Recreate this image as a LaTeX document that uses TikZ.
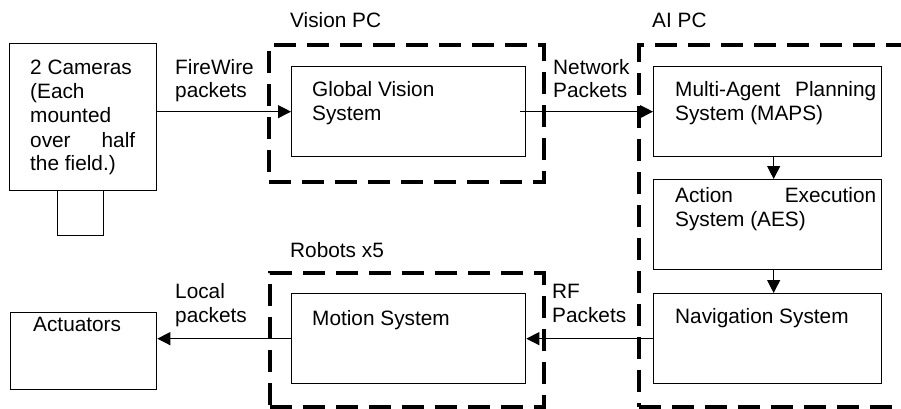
\documentclass[tikz,border=0pt]{standalone}
\usepackage{fontspec}
\setmainfont{Liberation Sans}
\usetikzlibrary{arrows.meta}
\begin{document}
\begin{tikzpicture}[x=1pt,y=-1pt,
  box/.style={draw,line width=1.3pt,anchor=north west,inner sep=0pt},
  dbox/.style={draw,line width=3.8pt,dash pattern=on 22pt off 11pt,anchor=north west,inner sep=0pt},
  lbl/.style={anchor=base west,inner sep=0pt,font=\fontsize{20.8}{23.5}\selectfont},
  arr/.style={line width=1.1pt,-{Triangle[length=13pt,width=13pt]}},
  varr/.style={line width=1.1pt,-{Triangle[length=13pt,width=13pt]}}]
\useasboundingbox (0,0) rectangle (901,408);
\clip (0,0) rectangle (901,408);
% dashed containers
\node[dbox,minimum width=275pt,minimum height=137pt] (vpc) at (267,43) {};
\node[dbox,minimum width=300pt,minimum height=362pt] (aipc) at (637,43) {};
\node[dbox,minimum width=274pt,minimum height=134pt] (rob) at (268,271) {};
% solid boxes
\node[box,minimum width=147pt,minimum height=147pt] (cam) at (9,43) {};
\node[box,minimum width=46pt,minimum height=45pt] (camb) at (57,190) {};
\node[box,minimum width=234pt,minimum height=90pt] (gv) at (291,66) {};
\node[box,minimum width=228pt,minimum height=90pt] (maps) at (653,66) {};
\node[box,minimum width=228pt,minimum height=90pt] (aes) at (653,179) {};
\node[box,minimum width=228pt,minimum height=90pt] (nav) at (653,293) {};
\node[box,minimum width=234pt,minimum height=90pt] (mot) at (291,293) {};
\node[box,minimum width=146pt,minimum height=77pt] (act) at (10,312) {};
% group labels
\node[lbl] (lvpc) at (290,27) {Vision PC};
\node[lbl] (laipc) at (652,27) {AI PC};
\node[lbl] (lrob) at (290,257) {Robots x5};
% camera text
\node[lbl] (c1) at (30,74) {2 Cameras};
\node[lbl] (c2) at (30,98) {(Each};
\node[lbl] (c3) at (30,122) {mounted};
\node[lbl] (c4) at (30,147) {\makebox[105pt][s]{over half}};
\node[lbl] (c5) at (30,170) {the field.)};
% box texts
\node[lbl] (g1) at (312,96) {Global Vision};
\node[lbl] (g2) at (312,120) {System};
\node[lbl] (m1) at (675,96) {\makebox[201pt][s]{Multi-Agent Planning}};
\node[lbl] (m2) at (675,120) {System (MAPS)};
\node[lbl] (a1) at (675,202) {\makebox[201pt][s]{Action Execution}};
\node[lbl] (a2) at (675,226) {System (AES)};
\node[lbl] (n1) at (675,323) {Navigation System};
\node[lbl] (mo1) at (312,325) {Motion System};
\node[lbl] (ac1) at (33,331) {Actuators};
% connector labels
\node[lbl] (fw1) at (175,74) {FireWire};
\node[lbl] (fw2) at (175,97) {packets};
\node[lbl] (nw1) at (553,74) {Network};
\node[lbl] (nw2) at (553,97) {Packets};
\node[lbl] (lp1) at (175,298) {Local};
\node[lbl] (lp2) at (175,322) {packets};
\node[lbl] (rf1) at (552,298) {RF};
\node[lbl] (rf2) at (552,322) {Packets};
% connectors
\draw[arr] (gv.west -| cam.east) -- (gv.west);
\draw[arr] ([xshift=-6pt]gv.east) -- (maps.west);
\draw[varr] ([xshift=6pt]maps.south) -- ([xshift=6pt]aes.north);
\draw[varr] ([xshift=6pt]aes.south) -- ([xshift=6pt]nav.north);
\draw[arr] (nav.west) -- (mot.east);
\draw[arr] (mot.west) -- (mot.west -| act.east);
\end{tikzpicture}
\end{document}
